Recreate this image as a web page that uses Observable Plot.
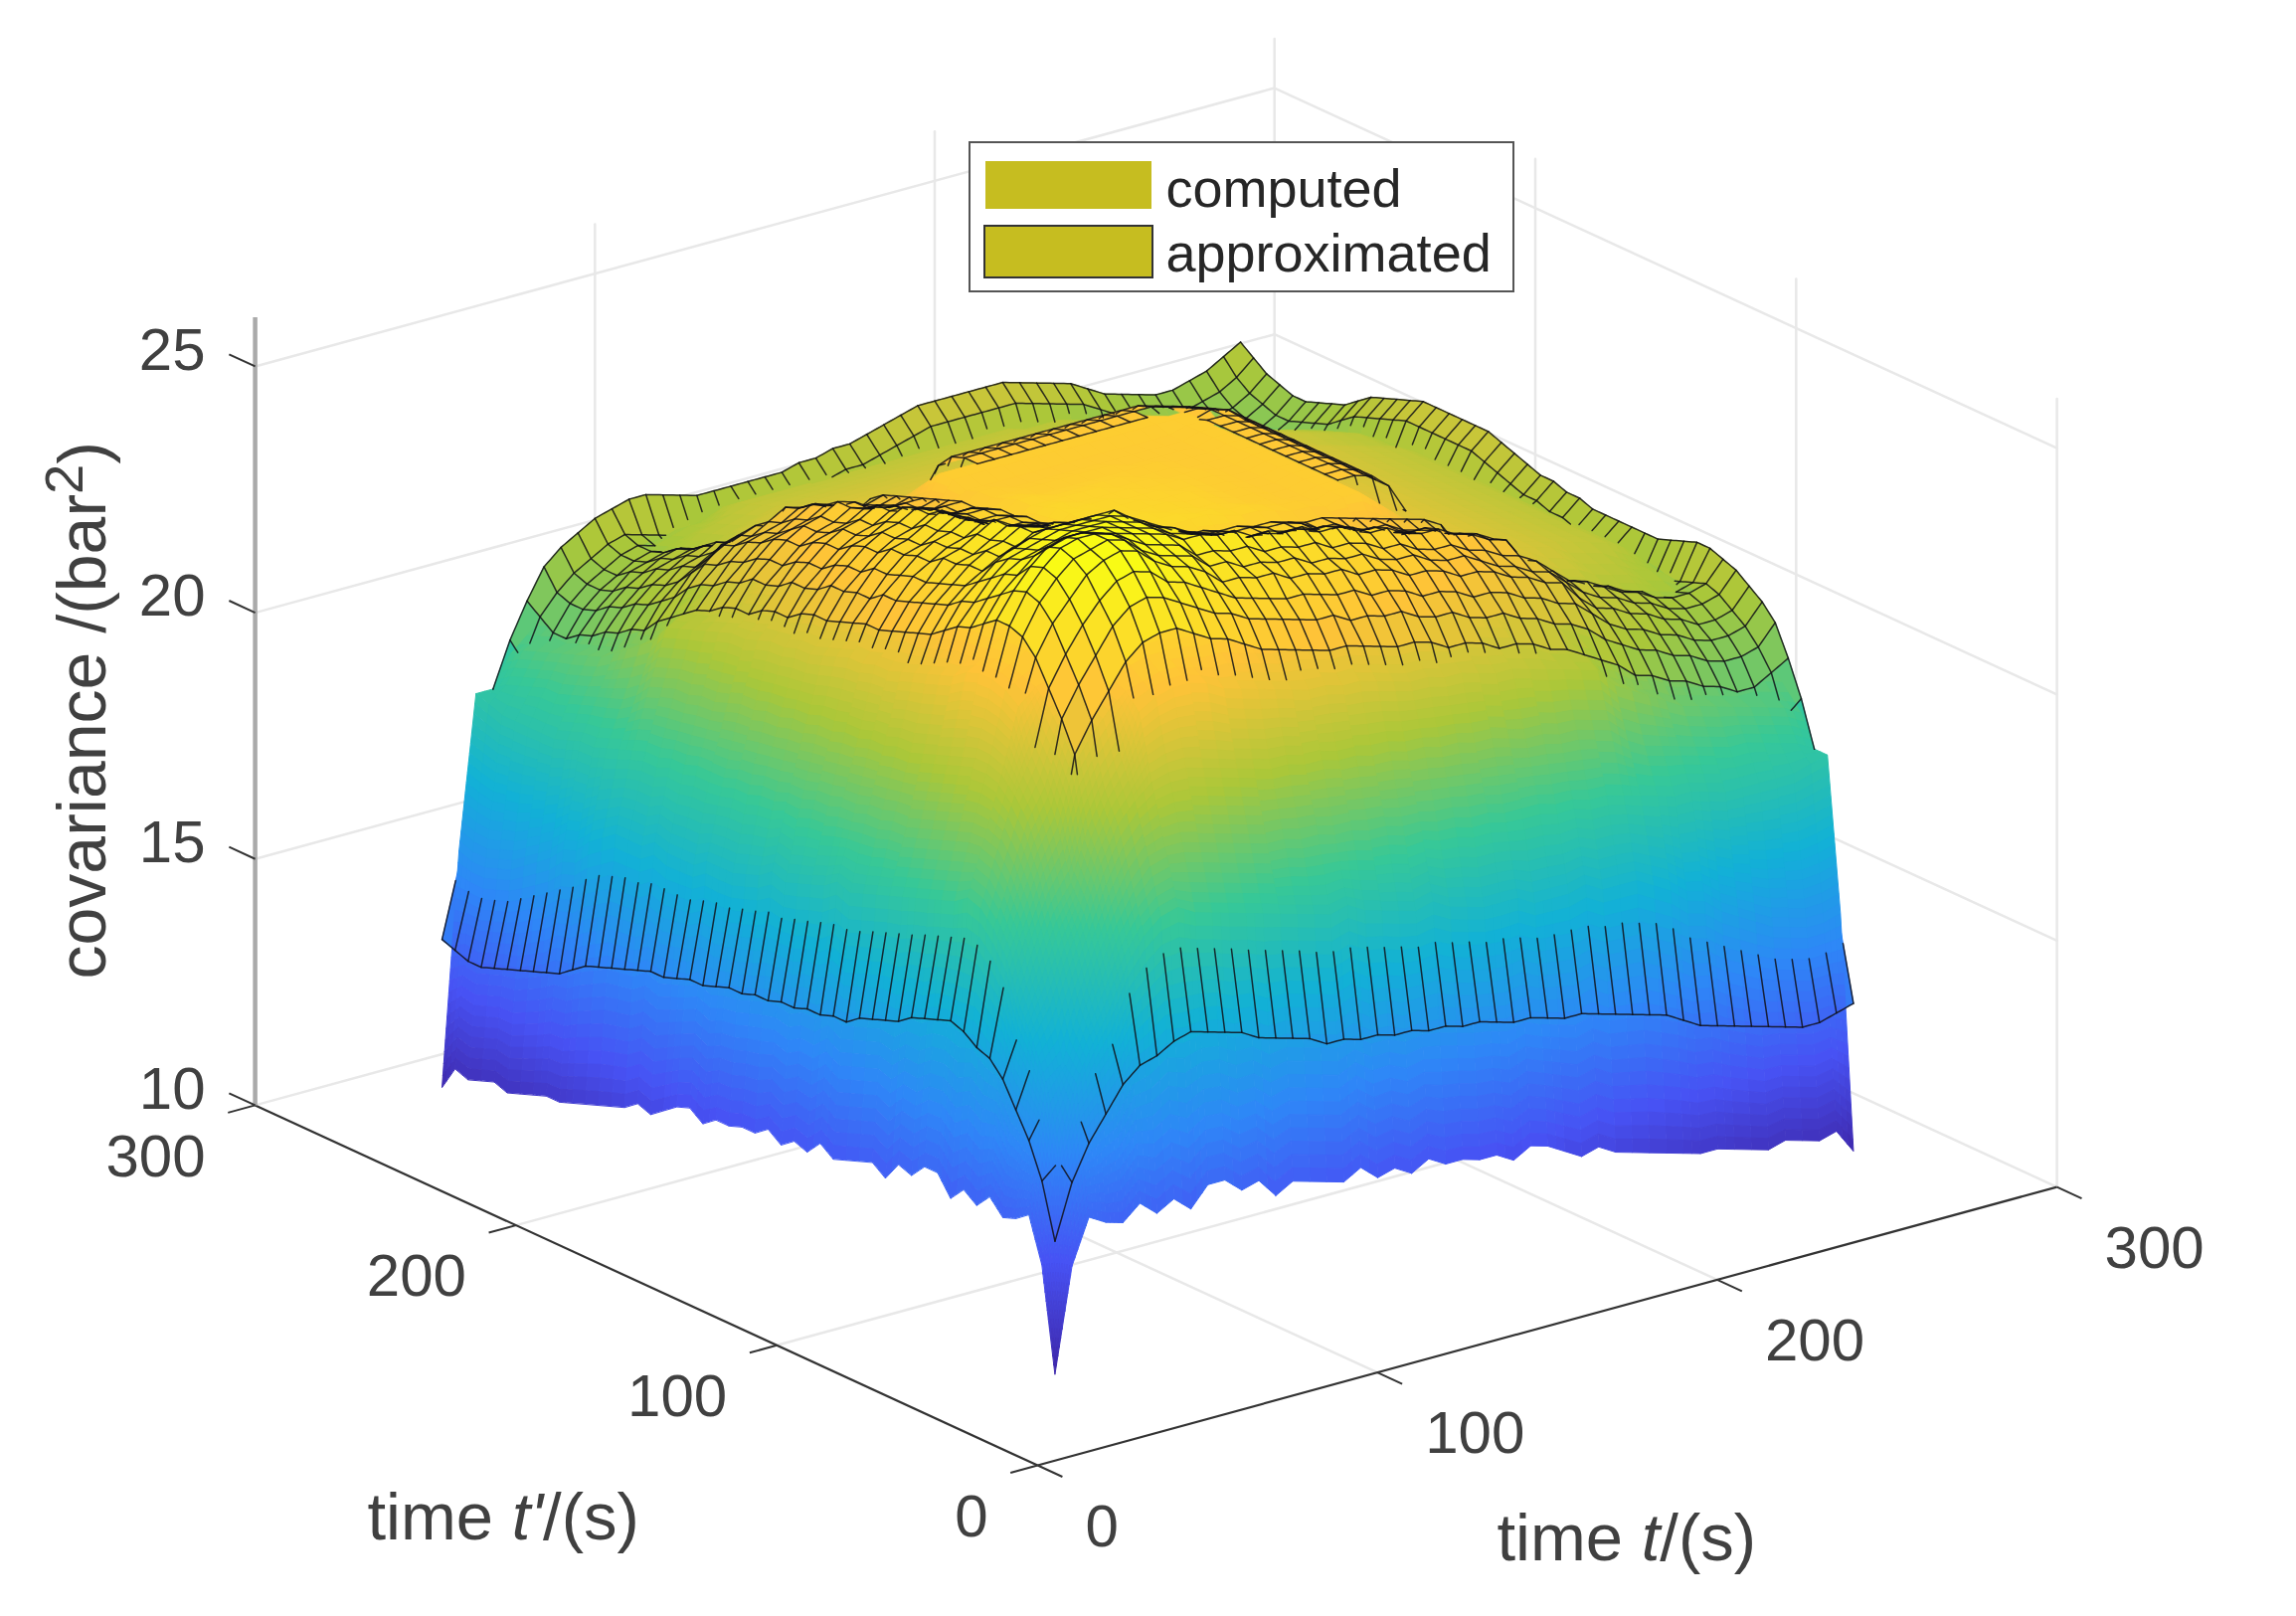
<!DOCTYPE html>
<html><head><meta charset="utf-8">
<script src="https://cdn.jsdelivr.net/npm/d3@7"></script>
<script src="https://cdn.jsdelivr.net/npm/@observablehq/plot@0.6"></script>
<style>html,body{margin:0;background:#fff}svg{display:block;filter:blur(0.6px)}</style>
</head><body><div id="chart"></div>
<script>
// sample times along both axes (s)
const times=[22,27,32,37,42,47,52,57,62,67,72,77,82,87,92,97,102,107,112,117,122,127,132,137,142,147,152,157,162,167,172,177,182,187,192,197,202,207,212,217,222,227,232,237,242,247,252,257];
const axisTicks=[0,100,200,300];
const covTicks=[10,15,20,25];
const parulaStops=[10.9,13,15.07,17.16,19.24,21.33,23.41,25.5];
const parulaColors=["#3e26a8","#4752f4","#2e87f7","#12b1d6","#37c897","#abc739","#fec338","#f9fb15"];
// tails shared by the rows of the central block (covariance x10, t = 172..257 s)
const cTail=[238,238,235,232,229,227,226,225,224,223,222,221,220,219,218,216,213,210];
const cTailEdge=[233,232,231,230,229,227,226,225,224,223,222,221,220,219,218,216,213,210];
const aTail=[234,234,236,236,235,232,226,223,220,219,216,215,214,213,213,213];
const aTailLow=[231,230,229,228,227,225,223,221,219,218,216,215,214,213,213,213];
// computed covariance x10: upper triangle, row k starts on the diagonal
const computedRows=[
[109,130,139,137,136,139,136,138,135,139,139,136,137,133,135,134,133,132,134,131,132,130,132,130,130,129,129,127,129,128,126,124,125,123,122,121,120,119,118,118,117,116,115,116,115,114,115,110],
[153,165,172,178,186,191,194,195,193,192,191,190,189,188,187,186,185,186,184,183,182,181,182,180,179,178,178,178,176,176,176,177,175,175,175,173,171,168,167,164,162,160,158,157,156,156,157],
[168,178,187,195,201,205,206,206,205,204,203,202,201,201,200,200,199,199,198,198,197,197,196,196,195,195,194,194,194,193,193,192,192,191,190,189,188,188,187,186,186,186,186,186,187,188],
[187,195,204,211,215,218,219,219,218,217,216,215,214,214,213,213,212,212,211,211,210,210,209,209,208,208,207,206,206,205,205,204,203,200,198,197,196,195,194,193,193,192,191,190,188],
[200,210,217,222,231,233,234,234,233,231,230,229,228,227,226,226,225,225,224,223,222,222,221,221,220,219,219,218,217,216,215,214,210,208,206,204,202,201,200,199,198,197,196,194],
[222,227,231,234,235,236,236,235,234,234,233,232,231,231,230,229,229,228,227,226,226,225,224,224,223,222,221,220,218,217,216,211,209,206,205,203,202,201,200,199,199,198,197],
[228,232,235,237,238,238,238,237,237,236,235,234,234,233,232,232,231,231,230,230,229,228,228,226,225,224,222,221,219,217,215,213,211,209,207,206,205,204,203,202,201,200],
[235,238,240,241,241,240,240,239,239,238,237,237,236,235,235,234,234,233,233,232,231,230,229,228,226,224,223,221,219,217,215,213,211,209,208,207,206,205,204,204,203],
[241,243,244,244,243,242,242,241,240,240,239,239,238,238,237,236,235,235,234,233,232,231,230,228,226,225,223,221,219,217,215,213,211,210,209,208,207,206,206,205],
[246,247,247,246,245,245,244,243,242,241,241,240,240,239,238,237,237,236,235,234,233,232,230,228,227,225,223,221,219,217,215,213,212,211,210,209,208,207,206],
[248,248,248,247,247,246,245,244,244,243,242,242,241,240,239,239,238,237,236,235,233,232,230,229,227,225,223,221,219,217,215,214,213,212,211,210,209,207],
[248,248,247,247,247,246,246,245,245,244,243,242,242,241,240,239,238,237,236,235,233,231,230,228,226,224,222,221,219,218,216,215,214,213,212,210,208],
[247,247,246,246,246,245,245,245,243,243,242,242,241,241,240,239,238,237,235,234,232,230,229,228,226,224,223,221,220,218,217,216,214,213,211,209],
[247,247,246,246,245,245,244,242,241,241,240,240,239,239,238,238,237,234,233,232,230,229,228,227,225,224,222,221,219,218,217,215,214,212,209],
[245,245,244,244,243,243,240,240,239,239,238,238,237,236,236,235,233,232,231,230,229,227,227,225,224,223,222,220,219,218,216,214,212,209],
[245,245,244,244,243,240,240,239,239,238,238,237,236,236,235,...cTailEdge],
[245,244,244,243,240,240,239,239,238,238,237,236,236,235,...cTailEdge],
[243,243,243,242,242,242,241,240,240,239,238,238,237,...cTail],
[243,242,242,242,241,241,240,240,239,238,238,237,...cTail],
[242,242,241,241,240,240,239,238,238,237,237,...cTail],
[241,241,241,240,240,239,238,238,237,237,...cTail],
[241,240,240,240,239,238,238,237,237,...cTail],
[240,240,239,239,238,238,237,237,...cTail],
[239,239,239,238,238,237,237,...cTail],
[239,238,238,238,237,237,...cTail],
[238,238,237,237,237,...cTail],
[238,237,237,237,...cTail],
[237,237,237,...cTail],
[237,237,...cTail],
[237,...cTail],
[...cTail],
[238,235,232,230,228,226,225,224,223,222,221,220,219,218,216,213,210],
[233,231,229,227,225,224,223,222,221,220,219,218,217,215,213,210],
[230,228,226,225,224,223,222,221,220,219,218,217,215,213,210],
[227,225,224,223,222,222,221,220,219,218,217,215,213,210],
[226,224,223,222,221,220,219,218,217,216,214,212,210],
[223,222,221,220,219,218,217,216,215,213,211,209],
[221,220,219,218,217,216,215,214,212,210,208],
[218,217,216,215,214,213,212,211,209,207],
[216,215,214,213,212,211,210,208,206],
[214,213,212,211,210,209,207,205],
[212,211,210,209,208,206,204],
[210,209,208,207,205,204],
[208,207,206,205,203],
[206,205,204,203],
[204,203,202],
[202,201],
[201]];
// approximated covariance x10: upper triangle, row k starts on the diagonal
const approximatedRows=[
[136,147,154,159,164,167,168,170,171,170,169,168,166,165,164,163,161,161,160,160,159,159,158,158,157,157,156,155,155,154,153,153,152,151,150,149,148,146,144,143,142,141,140,139,138,138,139,140],
[150,160,168,173,184,189,191,191,190,189,188,187,186,185,184,183,182,182,181,180,179,178,178,177,176,175,175,174,173,173,173,173,172,172,171,170,168,165,163,161,159,157,155,154,153,153,154],
[163,172,180,190,198,202,204,204,203,202,200,198,197,196,194,193,192,192,191,191,190,190,188,188,187,186,186,185,184,184,182,181,180,179,178,175,173,172,170,169,168,167,166,166,167,175],
[178,188,197,205,213,216,217,217,216,215,213,212,211,210,210,209,209,208,208,206,206,205,205,204,203,202,201,200,200,198,197,196,195,193,191,188,187,185,184,183,182,181,181,182,188],
[195,205,213,221,229,231,232,232,231,229,228,227,226,225,224,224,223,223,222,221,220,220,218,217,217,216,214,214,213,211,210,209,207,204,201,200,198,197,196,195,193,193,194,197],
[224,230,235,240,243,244,244,242,240,239,237,235,234,233,232,231,231,230,229,228,228,227,225,225,224,222,222,221,219,218,216,214,212,209,208,206,205,203,202,200,200,202,204],
[236,241,246,249,250,249,247,245,243,242,240,239,238,237,236,236,234,234,233,233,231,230,230,228,227,227,225,224,222,221,219,216,214,212,211,209,208,206,205,205,206,210],
[246,250,253,254,253,250,249,247,245,243,242,241,240,240,239,238,238,236,236,235,233,233,232,230,230,229,227,226,224,223,220,217,215,214,212,211,209,208,208,209,213],
[254,256,257,256,253,251,250,248,245,245,244,244,242,242,241,241,239,239,238,236,236,235,233,233,232,230,229,227,226,222,219,218,216,215,213,212,210,210,211,215],
[257,258,257,254,252,251,250,247,247,245,245,244,244,242,242,241,241,239,238,238,236,235,235,233,231,230,228,227,224,221,219,218,216,215,213,212,212,213,217],
[258,257,255,253,252,251,248,248,247,247,245,245,244,244,242,242,241,239,239,237,236,236,234,233,231,230,228,225,222,221,219,217,216,214,213,213,214,218],
[256,255,254,253,252,250,250,249,249,247,247,246,246,244,244,243,241,241,239,238,238,236,235,233,232,227,224,221,220,218,217,215,214,212,212,213,219],
[255,254,253,252,250,249,248,247,245,245,244,244,243,243,242,240,240,238,237,237,235,234,233,231,225,222,219,218,216,215,213,212,210,210,212,219],
[254,253,252,250,249,247,246,243,243,242,242,241,241,240,238,238,236,235,235,233,232,231,229,223,220,217,216,214,213,211,210,209,209,211,218],
[253,252,250,248,246,245,242,242,241,241,240,240,239,237,237,235,234,234,232,231,230,228,222,219,216,215,213,212,210,209,208,208,210,217],
[252,249,247,245,244,242,242,241,241,240,240,239,237,237,235,234,234,232,231,230,227,221,218,215,214,212,211,209,208,207,207,209,216],
[246,244,243,242,241,241,240,240,239,239,238,237,237,236,235,234,233,232,231,229,222,219,216,215,213,212,210,209,208,208,210,216],
[238,238,237,237,236,236,235,235,234,233,233,232,231,...aTailLow,213,216],
[238,237,237,236,236,235,235,234,233,233,232,231,...aTailLow,213,216],
[237,236,236,235,235,234,233,233,232,231,231,...aTailLow,213,216],
[236,235,235,234,234,233,233,232,232,231,...aTail,213,216],
[235,234,234,233,233,232,232,231,231,...aTail,214,217],
[234,233,233,232,232,231,231,231,...aTail,214,217],
[233,232,232,232,231,231,231,...aTail,215,218],
[232,232,231,231,231,230,...aTail,215,218],
[231,231,231,230,230,...aTail,216,219],
[231,230,230,230,...aTail,217,220],
[230,230,230,...aTail,218,221],
[230,230,...aTail,219,222],
[230,...aTail,219,222],
[...aTail,219,222],
[234,235,236,235,232,225,222,219,218,215,214,213,212,212,212,219,222],
[235,235,234,231,224,221,218,217,214,213,212,211,211,211,219,222],
[234,233,230,224,221,218,217,214,213,212,211,211,211,219,222],
[232,229,224,221,218,217,214,213,212,211,210,210,218,221],
[226,223,220,218,216,214,212,211,210,209,209,217,220],
[220,218,216,215,213,212,210,209,208,208,216,219],
[216,215,214,212,211,209,208,207,207,215,218],
[214,213,211,210,208,207,207,206,213,216],
[212,210,209,208,207,206,206,211,214],
[209,208,207,206,206,206,210,213],
[207,206,206,206,206,209,212],
[206,206,206,206,208,211],
[206,206,206,208,211],
[207,207,209,212],
[208,210,213],
[212,215],
[217]];

const N=times.length;
computedRows.forEach((r,k)=>{if(r.length!==N-k)throw new Error("computed row "+k+" has "+r.length)});
approximatedRows.forEach((r,k)=>{if(r.length!==N-k)throw new Error("approx row "+k+" has "+r.length)});
const val=(rows,i,j)=>(i<=j?rows[i][j-i]:rows[j][i-j])/10;
const cGrid=d3.range(N).map(i=>d3.range(N).map(j=>val(computedRows,i,j)));
const aGrid=d3.range(N).map(i=>d3.range(N).map(j=>val(approximatedRows,i,j)));

// view of the box: orthographic
const px=(t,tp)=>1043+3.417*t-2.623*tp;
const py=(t,tp,z)=>1473-0.933*t-1.207*tp-49.53*(z-10);
const bil=(g,u,v)=>{const i=Math.min(N-2,Math.floor(u)),j=Math.min(N-2,Math.floor(v)),a=u-i,b=v-j;
  return g[i][j]*(1-a)*(1-b)+g[i+1][j]*a*(1-b)+g[i][j+1]*(1-a)*b+g[i+1][j+1]*a*b};
const t0=times[0],dt=times[1]-times[0];
const at=(g,t,tp)=>bil(g,(t-t0)/dt,(tp-t0)/dt);

// mesh lines and lens faces are clipped where a surface lies in front
function hidden(t,tp,z){
  if(at(cGrid,t,tp)>z+0.01)return true;
  for(let s=0.6;;s+=0.6){
    const tr=t-s,pr=tp-1.303*s;
    if(tr<t0||pr<t0)return false;
    const zr=z+0.0506*s;
    if(zr>25.8)return false;
    if(at(cGrid,tr,pr)>zr+0.01)return true;
    if(at(aGrid,tr,pr)>zr+0.05)return true;
  }
}
// painter's order: far cells first
const surface=[],rim=[],lens=[];let pid=0;
for(let i=N-2;i>=0;i--)for(let j=N-2;j>=0;j--){
  const cs=[[i,j],[i+1,j],[i+1,j+1],[i,j+1]];
  const v=d3.mean(cs,([a,b])=>aGrid[a][b]);
  for(const [a,b] of cs)rim.push({x:px(times[a],times[b]),y:py(times[a],times[b],aGrid[a][b]),id:pid,v});
  if(cs.every(([a,b])=>aGrid[a][b]>cGrid[a][b])&&!hidden(times[i]+dt/2,times[j]+dt/2,v))
    for(const [a,b] of cs)lens.push({x:px(times[a],times[b]),y:py(times[a],times[b],aGrid[a][b]),id:pid,v});
  pid++;
}
pid=0;
for(let i=N-2;i>=0;i--)for(let j=N-2;j>=0;j--){
  const g=cGrid;
  const nu=Math.min(20,Math.max(1,Math.ceil(Math.max(Math.abs(g[i+1][j]-g[i][j]),Math.abs(g[i+1][j+1]-g[i][j+1]))/0.2)));
  const nv=Math.min(20,Math.max(1,Math.ceil(Math.max(Math.abs(g[i][j+1]-g[i][j]),Math.abs(g[i+1][j+1]-g[i+1][j]))/0.2)));
  for(let su=nu-1;su>=0;su--)for(let sv=nv-1;sv>=0;sv--){
    const corners=[[su/nu,sv/nv],[(su+1)/nu,sv/nv],[(su+1)/nu,(sv+1)/nv],[su/nu,(sv+1)/nv]].map(([a,b])=>{
      const t=t0+(i+a)*dt,tp=t0+(j+b)*dt,z=g[i][j]*(1-a)*(1-b)+g[i+1][j]*a*(1-b)+g[i][j+1]*(1-a)*b+g[i+1][j+1]*a*b;
      return {t,tp,z};});
    const v=d3.mean(corners,c=>c.z);
    for(const c of corners)surface.push({x:px(c.t,c.tp),y:py(c.t,c.tp,c.z),id:pid,v});
    pid++;
  }
}
const mesh=[];let mid=0;
function addLine(pts){
  let open=false;
  for(const p of pts){
    if(!hidden(p.t,p.tp,p.z)){mesh.push({x:px(p.t,p.tp),y:py(p.t,p.tp,p.z),id:mid});open=true;}
    else if(open){mid++;open=false;}
  }
  mid++;
}
const M=5;
for(let i=0;i<N;i++){
  const a=[],b=[];
  for(let j=0;j<N-1;j++)for(let m=0;m<(j===N-2?M+1:M);m++){
    const f=m/M,z=aGrid[i][j]*(1-f)+aGrid[i][j+1]*f,tv=times[j]+f*dt;
    a.push({t:times[i],tp:tv,z});b.push({t:tv,tp:times[i],z});
  }
  addLine(a);addLine(b);
}

const wallGrid=[];let gid=0;
const seg=(t1,p1,z1,t2,p2,z2)=>{wallGrid.push({x:px(t1,p1),y:py(t1,p1,z1),id:gid},{x:px(t2,p2),y:py(t2,p2,z2),id:gid});gid++};
const tMaxAxis=300,zBase=10,zTop=26;
for(const a of axisTicks.slice(1)){seg(a,0,zBase,a,tMaxAxis,zBase);seg(0,a,zBase,tMaxAxis,a,zBase);seg(a,tMaxAxis,zBase,a,tMaxAxis,zTop);}
for(const a of axisTicks.slice(0,3))seg(tMaxAxis,a,zBase,tMaxAxis,a,zTop);
for(const z of covTicks.slice(1)){seg(0,tMaxAxis,z,tMaxAxis,tMaxAxis,z);seg(tMaxAxis,tMaxAxis,z,tMaxAxis,0,z);}

const labelFont=67,tickFont=60,ink="#404040";
const legendFill="#c6bd20";
const plot=Plot.plot({
  width:2309,height:1625,margin:0,
  style:{background:"#fff",fontFamily:"'Liberation Sans',Arial,sans-serif",overflow:"visible"},
  x:{type:"linear",domain:[0,2309],range:[0,2309],axis:null},
  y:{type:"linear",domain:[0,1625],range:[0,1625],axis:null},
  color:{type:"linear",domain:parulaStops,range:parulaColors,clamp:true},
  marks:[
    Plot.line(wallGrid,{x:"x",y:"y",z:"id",stroke:"#e8e8e8",strokeWidth:2.5}),
    // axes
    Plot.link([0],{x1:()=>px(0,0),y1:()=>py(0,0,10),x2:()=>px(300,0),y2:()=>py(300,0,10),stroke:"#333",strokeWidth:2.2}),
    Plot.link([0],{x1:()=>px(0,0),y1:()=>py(0,0,10),x2:()=>px(0,300),y2:()=>py(0,300,10),stroke:"#333",strokeWidth:2.2}),
    Plot.link([0],{x1:()=>px(0,300),y1:()=>py(0,300,10),x2:()=>px(0,300),y2:()=>py(0,300,26),stroke:"#aaa",strokeWidth:4.5}),
    Plot.link(axisTicks,{x1:d=>px(d,0),y1:d=>py(d,0,10),x2:d=>px(d,-9.5),y2:d=>py(d,-9.5,10),stroke:"#333",strokeWidth:2}),
    Plot.link(axisTicks,{x1:d=>px(0,d),y1:d=>py(0,d,10),x2:d=>px(-8,d),y2:d=>py(-8,d,10),stroke:"#333",strokeWidth:2}),
    Plot.link(covTicks,{x1:()=>px(0,300),y1:d=>py(0,300,d),x2:()=>px(0,310),y2:d=>py(0,310,d),stroke:"#333",strokeWidth:2}),
    Plot.text(axisTicks,{x:d=>px(d,0),y:d=>py(d,0,10),text:d=>String(d),dx:48,dy:62,textAnchor:"start",fontSize:tickFont,fill:ink}),
    Plot.text(axisTicks,{x:d=>px(0,d),y:d=>py(0,d,10),text:d=>String(d),dx:-50,dy:52,textAnchor:"end",fontSize:tickFont,fill:ink}),
    Plot.text(covTicks,{x:()=>px(0,300),y:d=>py(0,300,d),text:d=>String(d),dx:-50,dy:-16,textAnchor:"end",fontSize:tickFont,fill:ink}),
    Plot.text(["time t'/(s)"],{x:()=>369,y:()=>1526,text:d=>d,textAnchor:"start",fontSize:labelFont,fill:ink}),
    Plot.text(["time t/(s)"],{x:()=>1505,y:()=>1547,text:d=>d,textAnchor:"start",fontSize:labelFont,fill:ink}),
    Plot.text(["covariance /(bar2)"],{x:()=>84,y:()=>984,text:d=>d,rotate:-90,textAnchor:"start",fontSize:68,fill:ink}),
    // surfaces
    Plot.line(rim,{x:"x",y:"y",z:"id",fill:"v",stroke:"v",strokeWidth:1,curve:"linear-closed"}),
    Plot.line(surface,{x:"x",y:"y",z:"id",fill:"v",stroke:"v",strokeWidth:1,curve:"linear-closed"}),
    Plot.line(lens,{x:"x",y:"y",z:"id",fill:"v",stroke:"v",strokeWidth:0.5,curve:"linear-closed"}),
    Plot.line(mesh,{x:"x",y:"y",z:"id",stroke:"#101018",strokeWidth:1.5,strokeOpacity:0.85}),
    // legend
    Plot.rect([0],{x1:()=>975,x2:()=>1522,y1:()=>143,y2:()=>293,fill:"#fff",stroke:"#555",strokeWidth:2}),
    Plot.rect([0],{x1:()=>991,x2:()=>1158,y1:()=>162,y2:()=>210,fill:legendFill}),
    Plot.rect([0],{x1:()=>990,x2:()=>1159,y1:()=>227,y2:()=>279,fill:legendFill,stroke:"#333",strokeWidth:2}),
    Plot.text(["computed"],{x:()=>1172,y:()=>190,text:d=>d,textAnchor:"start",fontSize:54,fill:"#262626"}),
    Plot.text(["approximated"],{x:()=>1172,y:()=>255,text:d=>d,textAnchor:"start",fontSize:54,fill:"#262626"})
  ]
});
plot.querySelectorAll("text").forEach(el=>{
  const s=el.textContent;
  if(s==="time t'/(s)")el.innerHTML="time <tspan font-style='italic'>t'</tspan>/(s)";
  else if(s==="time t/(s)")el.innerHTML="time <tspan font-style='italic'>t</tspan>/(s)";
  else if(s==="covariance /(bar2)")el.innerHTML="covariance /(bar<tspan dy='-0.42em' font-size='0.8em'>2</tspan><tspan dy='0.34em'>)</tspan>";
});
document.getElementById("chart").appendChild(plot);
</script></body></html>
